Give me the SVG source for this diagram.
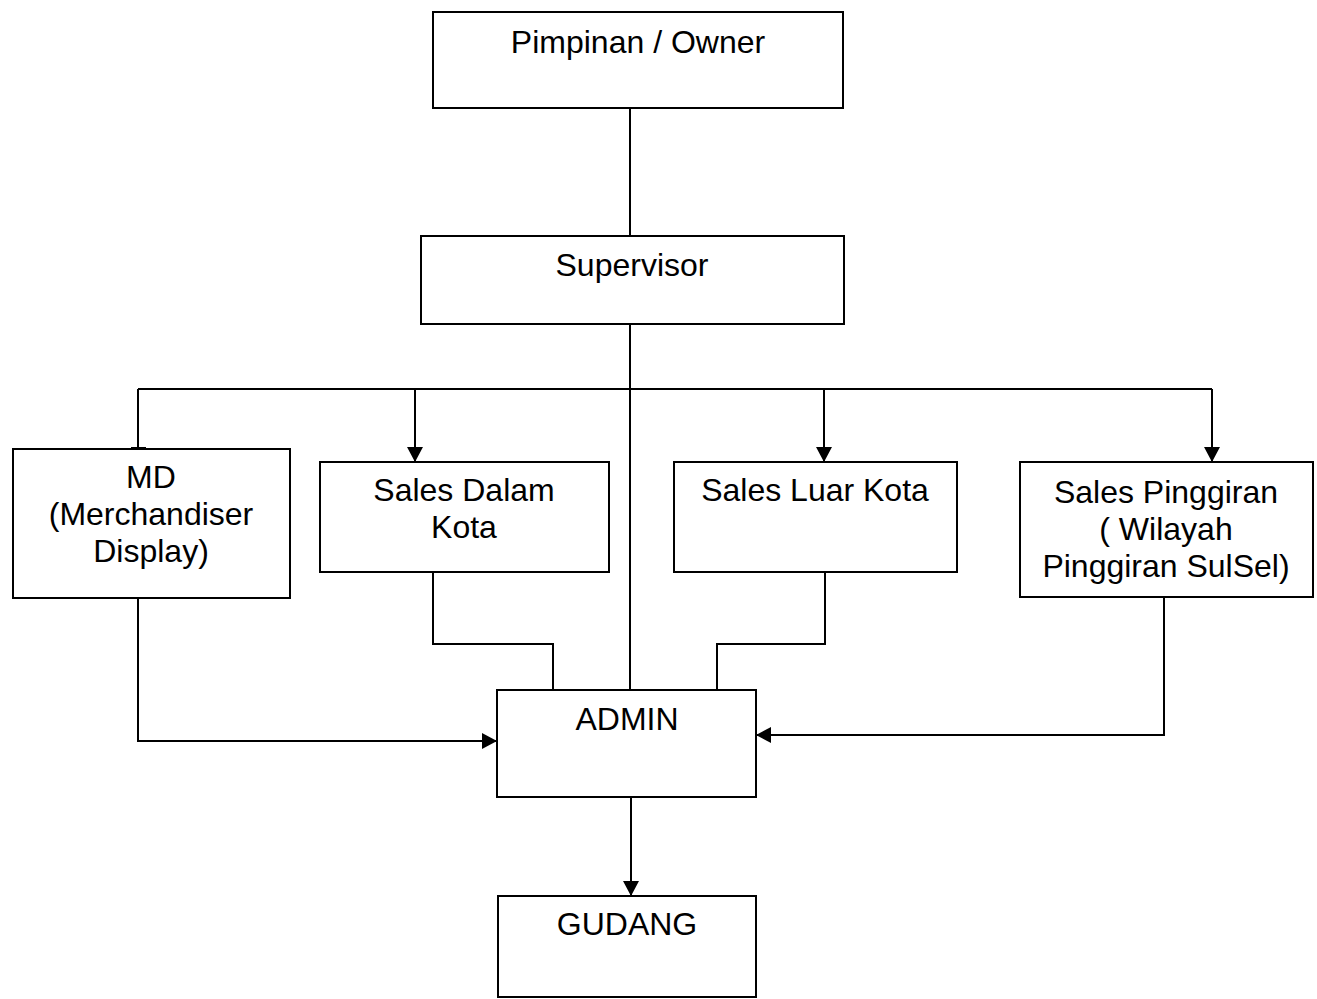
<svg xmlns="http://www.w3.org/2000/svg" width="1317" height="999" viewBox="0 0 1317 999">
<style>
.box{fill:#fff;stroke:#000;stroke-width:2}
.ln{fill:none;stroke:#000;stroke-width:2}
text{font-family:"Liberation Sans",Arial,sans-serif;font-size:32px;fill:#000;text-anchor:middle}
</style>
<defs>
<marker id="ah" viewBox="0 0 15 16" refX="15" refY="8" markerWidth="15" markerHeight="16" markerUnits="userSpaceOnUse" orient="auto">
<path d="M0,0 L15,8 L0,16 Z" fill="#000"/>
</marker>
</defs>
<rect width="1317" height="999" fill="#fff"/>
<g id="connectors">
<line class="ln" x1="630" y1="108" x2="630" y2="236"/>
<line class="ln" x1="630" y1="324" x2="630" y2="690"/>
<line class="ln" x1="138" y1="389" x2="1212" y2="389"/>
<line class="ln" x1="138" y1="389" x2="138" y2="449"/>
<line class="ln" x1="131" y1="448" x2="146" y2="448"/>
<line class="ln" x1="415" y1="389" x2="415" y2="462" marker-end="url(#ah)"/>
<line class="ln" x1="824" y1="389" x2="824" y2="462" marker-end="url(#ah)"/>
<line class="ln" x1="1212" y1="389" x2="1212" y2="462" marker-end="url(#ah)"/>
<polyline class="ln" points="433,572 433,644 553,644 553,690"/>
<polyline class="ln" points="825,572 825,644 717,644 717,690"/>
<polyline class="ln" points="138,598 138,741 497,741" marker-end="url(#ah)"/>
<polyline class="ln" points="1164,597 1164,735 756,735" marker-end="url(#ah)"/>
<line class="ln" x1="631" y1="797" x2="631" y2="896" marker-end="url(#ah)"/>
</g>
<g id="pimpinan">
<rect class="box" x="433" y="12" width="410" height="96"/>
<text x="638" y="53">Pimpinan / Owner</text>
</g>
<g id="supervisor">
<rect class="box" x="421" y="236" width="423" height="88"/>
<text x="632" y="276">Supervisor</text>
</g>
<g id="md">
<rect class="box" x="13" y="449" width="277" height="149"/>
<text x="151" y="488">MD</text>
<text x="151" y="525">(Merchandiser</text>
<text x="151" y="562">Display)</text>
</g>
<g id="sales-dalam-kota">
<rect class="box" x="320" y="462" width="289" height="110"/>
<text x="464" y="501">Sales Dalam</text>
<text x="464" y="538">Kota</text>
</g>
<g id="sales-luar-kota">
<rect class="box" x="674" y="462" width="283" height="110"/>
<text x="815" y="501">Sales Luar Kota</text>
</g>
<g id="sales-pinggiran">
<rect class="box" x="1020" y="462" width="293" height="135"/>
<text x="1166" y="503">Sales Pinggiran</text>
<text x="1166" y="540">( Wilayah</text>
<text x="1166" y="577">Pinggiran SulSel)</text>
</g>
<g id="admin">
<rect class="box" x="497" y="690" width="259" height="107"/>
<text x="627" y="730">ADMIN</text>
</g>
<g id="gudang">
<rect class="box" x="498" y="896" width="258" height="101"/>
<text x="627" y="935">GUDANG</text>
</g>
</svg>
